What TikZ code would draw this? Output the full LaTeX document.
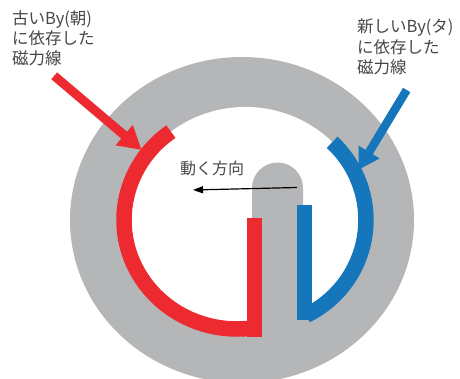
\documentclass[tikz,border=0pt]{standalone}
\usepackage{fontspec}
\newfontfamily\jpfont{Noto Sans CJK JP}
\usetikzlibrary{arrows.meta}
\definecolor{ringgray}{HTML}{B5B6B8}
\definecolor{fluxred}{HTML}{EC2A30}
\definecolor{fluxblue}{HTML}{1676BC}
\definecolor{labeltext}{HTML}{474747}
\begin{document}
\begin{tikzpicture}[x=1pt,y=-1pt,
  lbl/.style={font=\jpfont\fontsize{16.5}{21}\selectfont, text=labeltext, inner sep=0pt, anchor=base west},
  fluxband/.style={line width=15.5pt},
  redpointer/.style={fluxred, line width=9pt, -{Triangle[length=23pt,width=25pt]}},
  bluepointer/.style={fluxblue, line width=8.5pt, -{Triangle[length=21pt,width=23pt]}},
  movearrow/.style={black, line width=1.2pt, -{Triangle[length=10pt,width=7pt]}}]
\fill[white] (0,0) rectangle (460,378);
\useasboundingbox (0,0) rectangle (460,378);

% yoke
\fill[ringgray] (242,220) ellipse[x radius=172, y radius=163];

% open core
\fill[white] (170.9,131.6) arc[start angle=233.4, end angle=314, radius=125.1]
  arc[start angle=-47.1, end angle=64.1, radius=106]
  -- (252.9,327.9)
  arc[start angle=81.9, end angle=234.2, x radius=113, y radius=109] -- cycle;

% centre tooth
\fill[ringgray] (252,345) -- (252,188) arc[start angle=180, end angle=360, radius=25.5]
  -- (303,345) -- cycle;

% flux lines
\draw[fluxred, fluxband] (170.9,131.6) arc[start angle=234.2, end angle=81.9, x radius=113, y radius=109];
\fill[fluxred] (247,218) rectangle (262,337);
\draw[fluxblue, fluxband] (332.1,142.3) arc[start angle=-47.1, end angle=64.1, radius=106];
\fill[fluxblue] (297,205) rectangle (312,320);

% pointers
\coordinate (redTail) at (54.2,75.8);
\coordinate (redTip) at (141.7,150);
\coordinate (blueTail) at (406.7,90);
\coordinate (blueTip) at (358.3,170);
\draw[redpointer] (redTail) -- (redTip);
\draw[bluepointer] (blueTail) -- (blueTip);

% direction of motion
\coordinate (moveStart) at (297,187.5);
\coordinate (moveEnd) at (193,190);
\draw[movearrow] (moveStart) -- (moveEnd);
\node[lbl, font=\jpfont\fontsize{16}{20}\selectfont] (movelabel) at (180,174) {動く方向};

% labels
\node[lbl] (oldA) at (12,24) {古いBy(朝)};
\node[lbl] (oldB) at (12,44.7) {に依存した};
\node[lbl] (oldC) at (12,64.7) {磁力線};
\node[lbl] (newA) at (357,32.5) {新しいBy(タ)};
\node[lbl] (newB) at (357,53) {に依存した};
\node[lbl] (newC) at (357,73.5) {磁力線};
\end{tikzpicture}
\end{document}
